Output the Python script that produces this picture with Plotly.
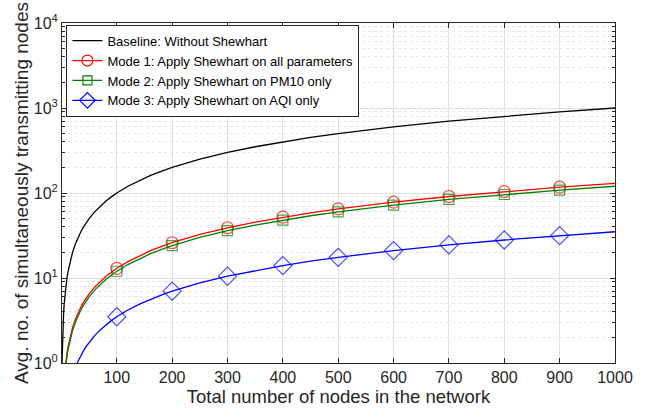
import plotly.graph_objects as go

# sample points along the x axis (number of nodes)
nodes = [1, 2, 3, 4, 5, 6, 7, 8, 9, 10, 12, 14, 16, 18, 20, 25, 30, 35, 40, 45, 50,
         60, 70, 80, 90, 100, 120, 140, 160, 180, 200, 250, 300, 350, 400, 450, 500,
         600, 700, 800, 900, 1000]

baseline = [1, 2, 3, 4, 5, 6, 7, 8, 9, 10, 12, 14, 16, 18, 20, 25, 30, 35, 40, 45, 50,
            60, 70, 80, 90, 100, 120, 140, 160, 180, 200, 250, 300, 350, 400, 450, 500,
            600, 700, 800, 900, 1000]

mode1 = [0.13, 0.26, 0.39, 0.52, 0.65, 0.78, 0.91, 1.04, 1.17, 1.3, 1.56, 1.82, 2.08,
         2.34, 2.6, 3.25, 3.9, 4.55, 5.2, 5.85, 6.5, 7.8, 9.1, 10.4, 11.7, 13, 15.6,
         18.2, 20.8, 23.4, 26, 32.5, 39, 45.5, 52, 58.5, 65, 78, 91, 104, 117, 130]

mode2 = [0.12, 0.24, 0.36, 0.48, 0.6, 0.72, 0.84, 0.96, 1.08, 1.2, 1.44, 1.68, 1.92,
         2.16, 2.4, 3.0, 3.6, 4.2, 4.8, 5.4, 6.0, 7.2, 8.4, 9.6, 10.8, 12, 14.4, 16.8,
         19.2, 21.6, 24, 30, 36, 42, 48, 54, 60, 72, 84, 96, 108, 120]

mode3 = [0.035, 0.07, 0.105, 0.14, 0.175, 0.21, 0.245, 0.28, 0.315, 0.35, 0.42, 0.49,
         0.56, 0.63, 0.7, 0.875, 1.05, 1.225, 1.4, 1.575, 1.75, 2.1, 2.45, 2.8, 3.15,
         3.5, 4.2, 4.9, 5.6, 6.3, 7, 8.75, 10.5, 12.25, 14, 15.75, 17.5, 21, 24.5, 28,
         31.5, 35]

marker_nodes = [100, 200, 300, 400, 500, 600, 700, 800, 900]

x_ticks = [100, 200, 300, 400, 500, 600, 700, 800, 900, 1000]
y_ticks = [1, 10, 100, 1000, 10000]
y_ticktext = ["10<sup>0</sup>", "10<sup>1</sup>", "10<sup>2</sup>", "10<sup>3</sup>", "10<sup>4</sup>"]

names = ["Baseline: Without Shewhart",
         "Mode 1: Apply Shewhart on all parameters",
         "Mode 2: Apply Shewhart on PM10 only",
         "Mode 3: Apply Shewhart on AQI only"]

FONT = "Liberation Sans, Arial, sans-serif"
LW = 1.3

fig = go.Figure()

fig.add_trace(go.Scatter(x=nodes, y=baseline, mode="lines", name=names[0],
                         line=dict(color="black", width=LW)))

series = [(mode1, names[1], "#ff0000", "circle-open", 12, 11),
          (mode2, names[2], "#008000", "square-open", 10, 9),
          (mode3, names[3], "#0000ff", "diamond-open", 14, 12)]

for vals, nm, col, sym, sz, lsz in series:
    sizes = [sz if n in marker_nodes else 0 for n in nodes]
    fig.add_trace(go.Scatter(x=nodes, y=vals, mode="lines+markers", name=nm,
                             showlegend=False,
                             line=dict(color=col, width=LW),
                             marker=dict(symbol=sym, size=sizes, color=col,
                                         line=dict(color=col, width=1.2))))
    # legend entry only
    fig.add_trace(go.Scatter(x=[None], y=[None], mode="lines+markers", name=nm,
                             line=dict(color=col, width=LW),
                             marker=dict(symbol=sym, size=lsz, color=col,
                                         line=dict(color=col, width=1.2))))

axis_common = dict(showline=True, linecolor="#262626", linewidth=1, mirror="allticks",
                   ticks="inside", ticklen=5, tickcolor="#262626",
                   tickfont=dict(family=FONT, size=16, color="#262626"),
                   zeroline=False)

fig.update_xaxes(range=[1, 1000], tickvals=x_ticks, showgrid=True,
                 gridcolor="#e0e0e0", gridwidth=1,
                 title=dict(text="Total number of nodes in the network",
                            font=dict(family=FONT, size=18.5, color="#262626"),
                            standoff=3),
                 **axis_common)

fig.update_yaxes(type="log", range=[0, 4], tickvals=y_ticks, ticktext=y_ticktext,
                 showgrid=True, gridcolor="#e0e0e0", gridwidth=1,
                 minor=dict(ticks="inside", ticklen=3, tickcolor="#262626",
                            showgrid=True, gridcolor="#e6e6e6", griddash="dot",
                            dtick="D1"),
                 title=dict(text="Avg. no. of simultaneously transmitting nodes",
                            font=dict(family=FONT, size=19, color="#262626"),
                            standoff=0),
                 **axis_common)

fig.update_layout(
    width=645, height=414,
    margin=dict(l=62, r=19, t=17, b=51),
    paper_bgcolor="white", plot_bgcolor="white",
    font=dict(family=FONT, color="#262626"),
    showlegend=True,
    legend=dict(x=0.008, y=0.995, xanchor="left", yanchor="top",
                bgcolor="white", bordercolor="#262626", borderwidth=1,
                font=dict(family=FONT, size=13, color="black"),
                tracegroupgap=0, itemwidth=30),
)

fig.write_html("out.html")
